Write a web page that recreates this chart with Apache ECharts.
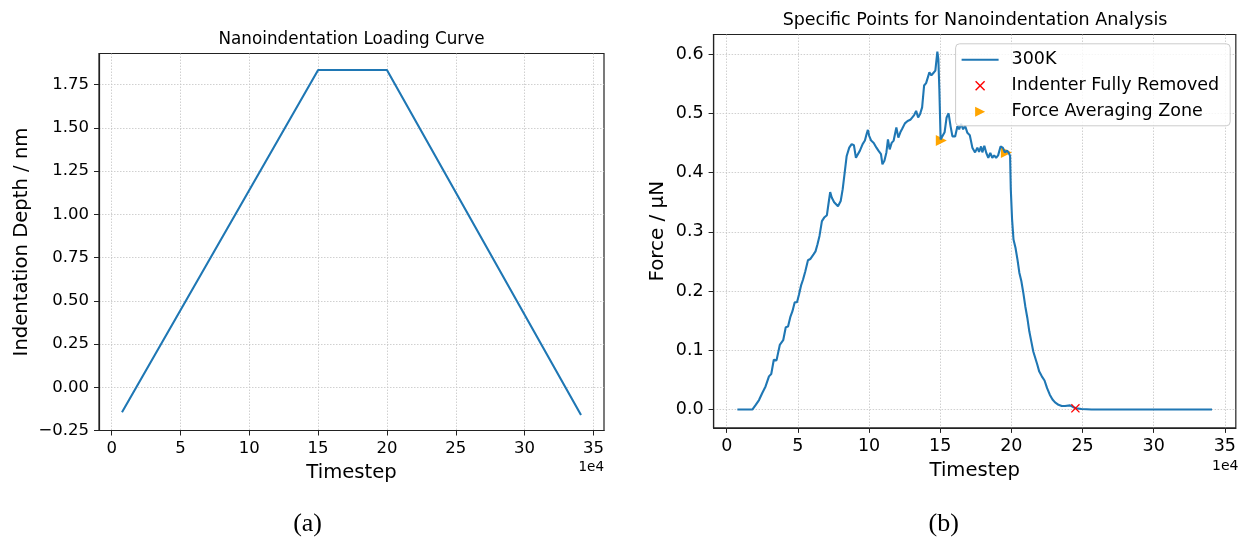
<!DOCTYPE html>
<html><head><meta charset="utf-8">
<script src="https://cdn.jsdelivr.net/npm/echarts@6/dist/echarts.min.js"></script>
<style>html,body{margin:0;padding:0;background:#fff}#c{width:1239px;height:541px}</style>
</head><body><div id="c"></div>
<script>
// ---- data (x in units of 1e4 timesteps) ----
const depthTime = [0.75, 15, 20, 34.1];
const depthValues = [-0.145, 1.835, 1.835, -0.16];

const forceTime = [0.75, 1.0, 1.5, 1.8, 2.04, 2.27, 2.5, 2.73, 2.97, 3.13, 3.31, 3.5, 3.73, 3.97, 4.15, 4.31, 4.48, 4.62, 4.78, 4.94,
  5.08, 5.22, 5.36, 5.52, 5.71, 5.87, 6.01, 6.1, 6.24, 6.38, 6.52, 6.69, 6.85, 7.04, 7.18, 7.27, 7.38, 7.55, 7.68, 7.82,
  8.01, 8.15, 8.29, 8.43, 8.61, 8.78, 8.94, 9.08, 9.22, 9.36, 9.55, 9.71, 9.83, 9.92, 10.01, 10.15, 10.33, 10.52, 10.66, 10.75,
  10.84, 10.94, 11.08, 11.22, 11.33, 11.45, 11.59, 11.73, 11.92, 12.06, 12.2, 12.33, 12.52, 12.71, 12.9, 13.03, 13.17, 13.31, 13.45, 13.59,
  13.73, 13.87, 14.01, 14.12, 14.24, 14.38, 14.52, 14.66, 14.8, 14.87, 14.94, 15.03, 15.17, 15.31, 15.45, 15.59, 15.73, 15.86, 16.05, 16.21,
  16.33, 16.47, 16.61, 16.75, 16.91, 17.08, 17.26, 17.45, 17.61, 17.73, 17.87, 17.96, 18.1, 18.24, 18.38, 18.52, 18.66, 18.79, 18.93, 19.07,
  19.24, 19.4, 19.54, 19.7, 19.82, 19.91, 19.96, 20.05, 20.15, 20.29, 20.43, 20.56, 20.7, 20.84, 20.98, 21.12, 21.26, 21.4, 21.54, 21.68,
  21.82, 21.96, 22.14, 22.33, 22.51, 22.7, 22.89, 23.07, 23.31, 23.54, 23.77, 24.12, 24.35, 24.58, 24.93, 25.63, 30, 34.1];
const forceValues = [0, 0, 0, 0, 0.008, 0.016, 0.028, 0.039, 0.056, 0.060, 0.084, 0.083, 0.109, 0.117, 0.139, 0.140, 0.157, 0.166, 0.181, 0.181,
  0.194, 0.209, 0.219, 0.233, 0.252, 0.254, 0.253, 0.262, 0.267, 0.279, 0.293, 0.318, 0.324, 0.328, 0.352, 0.367, 0.358, 0.350, 0.348, 0.343,
  0.352, 0.372, 0.400, 0.428, 0.442, 0.448, 0.446, 0.425, 0.423, 0.437, 0.448, 0.454, 0.465, 0.472, 0.462, 0.454, 0.450, 0.442, 0.437, 0.439,
  0.431, 0.414, 0.420, 0.434, 0.456, 0.439, 0.450, 0.454, 0.476, 0.459, 0.468, 0.474, 0.483, 0.487, 0.489, 0.486, 0.497, 0.504, 0.493, 0.499,
  0.510, 0.547, 0.551, 0.550, 0.569, 0.564, 0.568, 0.572, 0.604, 0.592, 0.541, 0.456, 0.454, 0.468, 0.493, 0.500, 0.478, 0.461, 0.461, 0.478,
  0.473, 0.482, 0.473, 0.479, 0.467, 0.463, 0.442, 0.434, 0.442, 0.435, 0.444, 0.434, 0.445, 0.433, 0.425, 0.433, 0.425, 0.429, 0.425, 0.429,
  0.444, 0.442, 0.434, 0.437, 0.433, 0.428, 0.372, 0.321, 0.287, 0.273, 0.253, 0.231, 0.217, 0.197, 0.174, 0.155, 0.132, 0.115, 0.098, 0.087,
  0.076, 0.064, 0.056, 0.049, 0.036, 0.025, 0.017, 0.012, 0.008, 0.006, 0.006, 0.007, 0.004, 0.002, 0.001, 0, 0, 0];

const removedTime = [24.5];
const removedForce = [0.002];
const averagingTime = [15.08, 19.65];
const averagingForce = [0.454, 0.434];

const xTickValues = [0, 5, 10, 15, 20, 25, 30, 35];
const depthTickValues = [-0.25, 0, 0.25, 0.5, 0.75, 1.0, 1.25, 1.5, 1.75];
const forceTickValues = [0, 0.1, 0.2, 0.3, 0.4, 0.5, 0.6];

const FONT = 'DejaVu Sans';
const zip = (a, b) => a.map((v, i) => [v, b[i]]);
const fmtNum = (v, d) => (v < 0 ? '\u2212' : '') + Math.abs(v).toFixed(d);

const xMark = 'path://M0,1L1,0L5,4L9,0L10,1L6,5L10,9L9,10L5,6L1,10L0,9L4,5Z';
const triRight = 'path://M0,0L10,5L0,10Z';
const lineIcon = 'path://M0,0L37,0L37,2L0,2Z';

function xAxisCfg(gridIndex, fs, nameGap) {
  return {
    type: 'value', gridIndex, min: -0.92, max: 35.77, splitNumber: 7,
    name: 'Timestep', nameLocation: 'middle', nameGap,
    nameTextStyle: { fontFamily: FONT, fontSize: 19.6, color: '#000' },
    axisLine: { show: true, onZero: false, lineStyle: { color: '#222', width: 1.2 } },
    axisTick: { show: true, inside: false, length: 5, customValues: xTickValues, lineStyle: { color: '#222', width: 1 } },
    axisLabel: { customValues: xTickValues, formatter: v => String(Math.round(v)), fontFamily: FONT, fontSize: fs, color: '#000', margin: 10 },
    splitLine: { show: true, lineStyle: { color: '#c4c4c4', width: 0.8, type: [1.5, 1.5] } }
  };
}

const option = {
  backgroundColor: '#ffffff',
  animation: false,
  grid: [
    { left: 99, top: 53.5, width: 505, height: 377, show: true, borderColor: '#222', borderWidth: 1.2, backgroundColor: 'transparent', containLabel: false },
    { left: 713.6, top: 34.5, width: 525, height: 393.4, show: true, borderColor: '#222', borderWidth: 1.2, backgroundColor: 'transparent', containLabel: false }
  ],
  xAxis: [xAxisCfg(0, 16.5, 32), xAxisCfg(1, 17.5, 32)],
  yAxis: [
    {
      type: 'value', gridIndex: 0, min: -0.25, max: 1.93, interval: 0.25,
      name: 'Indentation Depth / nm', nameLocation: 'middle', nameGap: 67.5,
      nameTextStyle: { fontFamily: FONT, fontSize: 19.6, color: '#000' },
      axisLine: { show: true, onZero: false, lineStyle: { color: '#222', width: 1.2 } },
      axisTick: { show: true, length: 5, customValues: depthTickValues, lineStyle: { color: '#222', width: 1 } },
      axisLabel: { customValues: depthTickValues, formatter: v => fmtNum(v, 2), fontFamily: FONT, fontSize: 16.5, color: '#000', margin: 10 },
      splitLine: { show: true, lineStyle: { color: '#c4c4c4', width: 0.8, type: [1.5, 1.5] } }
    },
    {
      type: 'value', gridIndex: 1, min: -0.031, max: 0.633, splitNumber: 7,
      name: 'Force / \u00b5N', nameLocation: 'middle', nameGap: 45.5,
      nameTextStyle: { fontFamily: FONT, fontSize: 19.9, color: '#000' },
      axisLine: { show: true, onZero: false, lineStyle: { color: '#222', width: 1.2 } },
      axisTick: { show: true, length: 5, customValues: forceTickValues, lineStyle: { color: '#222', width: 1 } },
      axisLabel: { customValues: forceTickValues, formatter: v => fmtNum(v, 1), fontFamily: FONT, fontSize: 17.5, color: '#000', margin: 10 },
      splitLine: { show: true, lineStyle: { color: '#c4c4c4', width: 0.8, type: [1.5, 1.5] } }
    }
  ],
  legend: {
    left: 955.6, top: 43.8, orient: 'vertical',
    backgroundColor: 'rgba(255,255,255,0.8)', borderColor: '#cccccc', borderWidth: 1, borderRadius: 4,
    padding: [7, 11, 5, 6], itemGap: 8, itemWidth: 37, itemHeight: 10,
    textStyle: { fontFamily: FONT, fontSize: 17.5, color: '#000', padding: [0, 0, 0, 8] },
    data: [
      { name: '300K', icon: lineIcon },
      { name: 'Indenter Fully Removed', icon: xMark },
      { name: 'Force Averaging Zone', icon: triRight }
    ]
  },
  graphic: [
    { type: 'text', x: 351.5, y: 39.5, style: { text: 'Nanoindentation Loading Curve', font: '16.8px "DejaVu Sans"', fill: '#000', textAlign: 'center', textVerticalAlign: 'middle' } },
    { type: 'text', x: 975, y: 20, style: { text: 'Specific Points for Nanoindentation Analysis', font: '17.5px "DejaVu Sans"', fill: '#000', textAlign: 'center', textVerticalAlign: 'middle' } },
    { type: 'text', x: 604, y: 467.5, style: { text: '1e4', font: '13.5px "DejaVu Sans"', fill: '#000', textAlign: 'right', textVerticalAlign: 'middle' } },
    { type: 'text', x: 1238.5, y: 466.5, style: { text: '1e4', font: '14px "DejaVu Sans"', fill: '#000', textAlign: 'right', textVerticalAlign: 'middle' } },
    { type: 'text', x: 307.6, y: 524, style: { text: '(a)', font: '26px "Liberation Serif"', fill: '#000', textAlign: 'center', textVerticalAlign: 'middle' } },
    { type: 'text', x: 943.7, y: 524, style: { text: '(b)', font: '26px "Liberation Serif"', fill: '#000', textAlign: 'center', textVerticalAlign: 'middle' } }
  ],
  series: [
    {
      name: 'Depth', type: 'line', xAxisIndex: 0, yAxisIndex: 0, data: zip(depthTime, depthValues),
      symbol: 'none', lineStyle: { color: '#1f77b4', width: 2.1 }, itemStyle: { color: '#1f77b4' }, z: 3
    },
    {
      name: 'Force Averaging Zone', type: 'scatter', xAxisIndex: 1, yAxisIndex: 1, data: zip(averagingTime, averagingForce),
      symbol: triRight, symbolSize: 11, itemStyle: { color: '#ffa500', opacity: 1 }, z: 2
    },
    {
      name: '300K', type: 'line', xAxisIndex: 1, yAxisIndex: 1, data: zip(forceTime, forceValues),
      symbol: 'none', showSymbol: false, lineStyle: { color: '#1f77b4', width: 2.1 }, itemStyle: { color: '#1f77b4' }, z: 3
    },
    {
      name: 'Indenter Fully Removed', type: 'scatter', xAxisIndex: 1, yAxisIndex: 1, data: zip(removedTime, removedForce),
      symbol: xMark, symbolSize: 9, itemStyle: { color: '#ff0000', opacity: 1 }, z: 4
    }
  ]
};
const chart = echarts.init(document.getElementById('c'), null, { renderer: 'canvas' });
chart.setOption(option);
</script></body></html>
